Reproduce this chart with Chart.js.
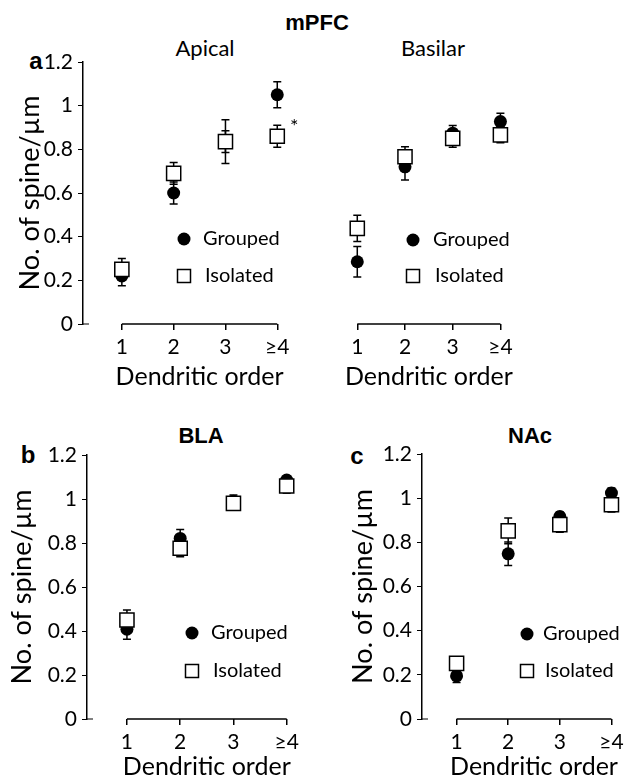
<!DOCTYPE html>
<html>
<head>
<meta charset="utf-8">
<script src="https://cdn.jsdelivr.net/npm/chart.js@4"></script>
<style>
  body { margin: 0; background: #fff; }
  #page { position: relative; width: 641px; height: 784px; background: #fff; font-family: Lato, sans-serif; }
  canvas { position: absolute; }
  .lbl { position: absolute; transform: translate(-50%, -50%); white-space: nowrap; color: #000; }
  .bold { font-family: "Liberation Sans", Arial, sans-serif; font-weight: bold; }
</style>
</head>
<body>
<div id="page">
  <div class="lbl bold" style="left:317px;top:23px;font-size:22px">mPFC</div>
  <div class="lbl" style="left:205px;top:47px;font-size:22px">Apical</div>
  <div class="lbl" style="left:433px;top:47px;font-size:22px">Basilar</div>
  <div class="lbl bold" style="left:36px;top:61px;font-size:24px">a</div>
  <div class="lbl bold" style="left:201px;top:436px;font-size:22px">BLA</div>
  <div class="lbl bold" style="left:530px;top:436px;font-size:22px">NAc</div>
  <div class="lbl bold" style="left:28px;top:455px;font-size:24px">b</div>
  <div class="lbl bold" style="left:357px;top:456px;font-size:24px">c</div>

  <canvas id="apical" width="310" height="400" style="left:0;top:0"></canvas>
  <canvas id="basilar" width="221" height="400" style="left:310px;top:0"></canvas>
  <canvas id="bla" width="320" height="384" style="left:0;top:400px"></canvas>
  <canvas id="nac" width="321" height="384" style="left:320px;top:400px"></canvas>
</div>
<script>
  var orders = [1, 2, 3, 4];
  var orderLabels = ['1', '2', '3', '≥4'];
  var yTickValues = [0, 0.2, 0.4, 0.6, 0.8, 1, 1.2];
  var yTickLabels = ['0', '0.2', '0.4', '0.6', '0.8', '1', '1.2'];
  var seriesNames = ['Grouped', 'Isolated'];

  // mPFC apical
  var apicalGrouped = [0.22, 0.60, 0.835, 1.05];
  var apicalGroupedErr = [0.045, 0.05, 0.05, 0.06];
  var apicalIsolated = [0.25, 0.69, 0.835, 0.86];
  var apicalIsolatedErr = [0.05, 0.05, 0.10, 0.05];

  // mPFC basilar
  var basilarGrouped = [0.285, 0.72, 0.874, 0.927];
  var basilarGroupedErr = [0.07, 0.06, 0.035, 0.038];
  var basilarIsolated = [0.438, 0.766, 0.85, 0.866];
  var basilarIsolatedErr = [0.06, 0.046, 0.04, 0.036];

  // BLA
  var blaGrouped = [0.408, 0.821, 0.99, 1.086];
  var blaGroupedErr = [0.045, 0.04, 0.028, 0.02];
  var blaIsolated = [0.45, 0.776, 0.98, 1.059];
  var blaIsolatedErr = [0.045, 0.038, 0.03, 0.033];

  // NAc
  var nacGrouped = [0.195, 0.748, 0.917, 1.023];
  var nacGroupedErr = [0.03, 0.053, 0.02, 0.023];
  var nacIsolated = [0.252, 0.852, 0.88, 0.97];
  var nacIsolatedErr = [0.02, 0.058, 0.034, 0.033];

  Chart.defaults.font.family = 'Lato, sans-serif';
  Chart.defaults.color = '#000';

  function toPoints(vals) {
    return vals.map(function (v, i) { return { x: orders[i], y: v }; });
  }

  function makePanel(id, grouped, groupedErr, isolated, isolatedErr, o) {
    var extras = {
      id: 'extras',
      beforeDatasetsDraw: function (chart) {
        // error bars under the markers
        var ctx = chart.ctx, xs = chart.scales.x, ys = chart.scales.y;
        ctx.save();
        ctx.strokeStyle = '#000';
        ctx.lineWidth = 1.5;
        chart.data.datasets.forEach(function (ds) {
          ds.data.forEach(function (p, i) {
            var px = xs.getPixelForValue(p.x);
            var top = ys.getPixelForValue(p.y + ds.err[i]);
            var bot = ys.getPixelForValue(p.y - ds.err[i]);
            ctx.beginPath();
            ctx.moveTo(px, top); ctx.lineTo(px, bot);
            ctx.moveTo(px - 4, top); ctx.lineTo(px + 4, top);
            ctx.moveTo(px - 4, bot); ctx.lineTo(px + 4, bot);
            ctx.stroke();
          });
        });
        ctx.restore();
      },
      afterDraw: function (chart) {
        var ctx = chart.ctx, xs = chart.scales.x, ys = chart.scales.y;
        var area = chart.chartArea;
        var x1 = xs.getPixelForValue(orders[0]);
        var x4 = xs.getPixelForValue(orders[orders.length - 1]);
        ctx.save();
        ctx.strokeStyle = '#000';
        ctx.fillStyle = '#000';
        ctx.lineWidth = 1.5;
        // x axis line only between first and last order
        ctx.beginPath();
        ctx.moveTo(x1, area.bottom);
        ctx.lineTo(x4, area.bottom);
        ctx.stroke();
        if (o.showY) {
          var y0 = ys.getPixelForValue(0);
          ctx.lineWidth = 1;
          ctx.beginPath();
          ctx.moveTo(area.left, y0);
          ctx.lineTo(area.left + 6, y0);
          ctx.stroke();
        }
        // x title centred on the axis line
        ctx.font = '25px Lato, sans-serif';
        ctx.textAlign = 'center';
        ctx.textBaseline = 'middle';
        ctx.fillText('Dendritic order', (x1 + x4) / 2, area.bottom + o.xTitleOff);

        // legend
        var lg = o.legend;
        ctx.beginPath();
        ctx.arc(lg.cx, lg.cy1, 6.5, 0, Math.PI * 2);
        ctx.fill();
        ctx.lineWidth = 1.5;
        ctx.strokeRect(lg.cx - 6.5, lg.cy2 - 6.5, 13, 13);
        ctx.font = '20px Lato, sans-serif';
        ctx.textAlign = 'left';
        ctx.fillText(seriesNames[0], lg.tx, lg.cy1);
        ctx.fillText(seriesNames[1], lg.tx + 2, lg.cy2);

        if (o.star !== undefined) {
          var sx = xs.getPixelForValue(orders[o.star]);
          var sy = ys.getPixelForValue(isolated[o.star]);
          ctx.font = '20px Lato, sans-serif';
          ctx.textAlign = 'center';
          ctx.fillText('*', sx + 17, sy - 10);
        }
        ctx.restore();
      }
    };

    return new Chart(document.getElementById(id), {
      type: 'scatter',
      data: {
        datasets: [{
          label: seriesNames[0],
          data: toPoints(grouped),
          err: groupedErr,
          order: 1,
          pointStyle: 'circle',
          pointRadius: 6.5,
          pointBackgroundColor: '#000',
          pointBorderColor: '#000',
          pointBorderWidth: 0
        }, {
          label: seriesNames[1],
          data: toPoints(isolated),
          err: isolatedErr,
          order: 0,
          pointStyle: 'rect',
          pointRadius: 10,
          pointBackgroundColor: '#fff',
          pointBorderColor: '#000',
          pointBorderWidth: 1.5
        }]
      },
      options: {
        responsive: false,
        animation: false,
        events: [],
        layout: { padding: { top: o.padTop, right: o.padRight, left: 0, bottom: 0 } },
        plugins: { legend: { display: false }, tooltip: { enabled: false } },
        scales: {
          x: {
            type: 'linear',
            min: o.xMin,
            max: o.xMax,
            afterBuildTicks: function (s) { s.ticks = orders.map(function (v) { return { value: v }; }); },
            afterFit: function (s) { s.height = o.xH; },
            border: { display: false },
            grid: { drawOnChartArea: false, color: '#000', lineWidth: 1.5, tickLength: 6 },
            ticks: {
              autoSkip: false,
              maxRotation: 0,
              padding: 5,
              font: { size: 21 },
              callback: function (v) { return orderLabels[orders.indexOf(v)]; }
            }
          },
          y: {
            display: o.showY,
            min: 0,
            max: 1.2,
            afterBuildTicks: function (s) { s.ticks = yTickValues.map(function (v) { return { value: v }; }); },
            afterFit: function (s) { s.width = o.yw; },
            border: { color: '#000', width: 1.5 },
            grid: { drawOnChartArea: false, color: '#000', tickLength: 5 },
            ticks: {
              padding: 5,
              font: { size: 21 },
              callback: function (v) { return yTickLabels[yTickValues.indexOf(v)]; }
            },
            title: {
              display: true,
              text: 'No. of spine/µm',
              font: { size: 27 },
              padding: { top: o.yTitlePad, bottom: 0 }
            }
          }
        }
      },
      plugins: [extras]
    });
  }

  makePanel('apical', apicalGrouped, apicalGroupedErr, apicalIsolated, apicalIsolatedErr, {
    showY: true, yw: 83, padTop: 62, padRight: 5, xH: 76, xMin: 0.25, xMax: 4.41,
    yTitlePad: 14, xTitleOff: 53, star: 3,
    legend: { cx: 184, cy1: 239, cy2: 276, tx: 203 }
  });
  makePanel('basilar', basilarGrouped, basilarGroupedErr, basilarIsolated, basilarIsolatedErr, {
    showY: false, yw: 0, padTop: 62, padRight: 0, xH: 76, xMin: 0.25, xMax: 4.4,
    yTitlePad: 0, xTitleOff: 53,
    legend: { cx: 103, cy1: 240, cy2: 276, tx: 123 }
  });
  makePanel('bla', blaGrouped, blaGroupedErr, blaIsolated, blaIsolatedErr, {
    showY: true, yw: 87, padTop: 55, padRight: 12, xH: 65, xMin: 0.25, xMax: 4.4,
    yTitlePad: 6, xTitleOff: 48,
    legend: { cx: 192, cy1: 233, cy2: 271, tx: 211 }
  });
  makePanel('nac', nacGrouped, nacGroupedErr, nacIsolated, nacIsolatedErr, {
    showY: true, yw: 102, padTop: 54, padRight: 3, xH: 65, xMin: 0.33, xMax: 4.35,
    yTitlePad: 27, xTitleOff: 48,
    legend: { cx: 207, cy1: 234, cy2: 271, tx: 223 }
  });
</script>
</body>
</html>
